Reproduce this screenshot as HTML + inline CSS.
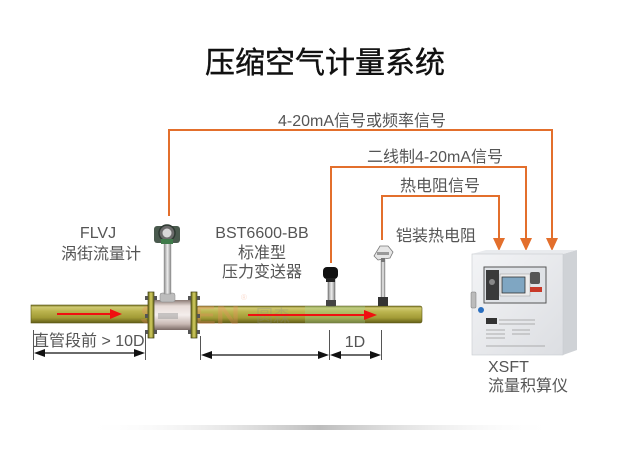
<!DOCTYPE html>
<html><head><meta charset="utf-8"><style>
html,body{margin:0;padding:0;background:#fff;}
svg{display:block;}
text{font-family:"Liberation Sans","Noto Sans CJK SC",sans-serif;}
</style></head><body>
<svg width="640" height="451" viewBox="0 0 640 451" xmlns="http://www.w3.org/2000/svg">
<defs>
<linearGradient id="pipe" x1="0" y1="0" x2="0" y2="1">
<stop offset="0" stop-color="#74701f"/>
<stop offset="0.12" stop-color="#cfc972"/>
<stop offset="0.35" stop-color="#bbb44e"/>
<stop offset="0.7" stop-color="#a29b36"/>
<stop offset="1" stop-color="#625e18"/>
</linearGradient>
<linearGradient id="body" x1="0" y1="0" x2="0" y2="1">
<stop offset="0" stop-color="#8a7a74"/>
<stop offset="0.2" stop-color="#e8dcd8"/>
<stop offset="0.5" stop-color="#f4eeec"/>
<stop offset="0.8" stop-color="#c9b9b4"/>
<stop offset="1" stop-color="#7a6a66"/>
</linearGradient>
<linearGradient id="flange" x1="0" y1="0" x2="1" y2="0">
<stop offset="0" stop-color="#6b6a1e"/>
<stop offset="0.5" stop-color="#d6d060"/>
<stop offset="1" stop-color="#6b6a1e"/>
</linearGradient>
<linearGradient id="stem" x1="0" y1="0" x2="1" y2="0">
<stop offset="0" stop-color="#8a8a8a"/>
<stop offset="0.5" stop-color="#eeeeee"/>
<stop offset="1" stop-color="#888"/>
</linearGradient>
<linearGradient id="shadow" x1="0" y1="0" x2="1" y2="0">
<stop offset="0" stop-color="#fff" stop-opacity="0"/>
<stop offset="0.5" stop-color="#bdbdbd"/>
<stop offset="1" stop-color="#fff" stop-opacity="0"/>
</linearGradient>
<linearGradient id="front" x1="0" y1="0" x2="1" y2="1">
<stop offset="0" stop-color="#f3f4f6"/>
<stop offset="1" stop-color="#dcdee2"/>
</linearGradient>
</defs>

<!-- title -->
<text x="325" y="73" font-size="30" text-anchor="middle" fill="#111" stroke="#111" stroke-width="0.4">压缩空气计量系统</text>

<!-- orange signal lines -->
<g fill="none" stroke="#e36f2c" stroke-width="2">
<polyline points="169,216 169,130 552,130 552,240"/>
<polyline points="331,263 331,167 526,167 526,240"/>
<polyline points="382,240 382,196 499,196 499,240"/>
</g>
<g fill="#e36f2c">
<polygon points="493,238 505,238 499,251"/>
<polygon points="520,238 532,238 526,251"/>
<polygon points="546,238 558,238 552,251"/>
</g>

<!-- signal labels -->
<g font-size="16" fill="#555">
<text x="362" y="126" text-anchor="middle">4-20mA信号或频率信号</text>
<text x="435" y="162" text-anchor="middle">二线制4-20mA信号</text>
<text x="440" y="191" text-anchor="middle">热电阻信号</text>
<text x="436" y="241" text-anchor="middle">铠装热电阻</text>
<text x="98" y="238" text-anchor="middle">FLVJ</text>
<text x="101" y="259" text-anchor="middle">涡街流量计</text>
<text x="262" y="238" text-anchor="middle">BST6600-BB</text>
<text x="262" y="258" text-anchor="middle">标准型</text>
<text x="262" y="277" text-anchor="middle">压力变送器</text>
<text x="33" y="346">直管段前 &gt; 10D</text>
<text x="355" y="347" text-anchor="middle">1D</text>
<text x="488" y="372">XSFT</text>
<text x="488" y="391">流量积算仪</text>
</g>

<!-- pipes -->
<rect x="31" y="305" width="118" height="18" fill="url(#pipe)" stroke="#5a5615" stroke-width="0.6"/>
<rect x="197" y="306" width="225" height="17" rx="2" fill="url(#pipe)" stroke="#5a5615" stroke-width="0.6"/>

<!-- watermark -->
<g opacity="0.3">
<text x="140" y="324" font-size="26" font-weight="bold" fill="#f08a60" textLength="100" lengthAdjust="spacingAndGlyphs">SISEN</text>
<text x="241" y="300" font-size="8" fill="#f08a60">®</text>
<text x="256" y="322" font-size="17" fill="#888">圆森</text>
<rect x="305" y="306" width="60" height="17" fill="#9fd6a0"/>
</g>

<!-- vortex meter body -->
<rect x="153" y="300" width="38" height="30" fill="url(#body)"/>
<rect x="160" y="293" width="15" height="9" rx="2" fill="#bdbdbd" stroke="#888" stroke-width="0.5"/>
<rect x="158" y="313" width="20" height="6" fill="#999" opacity="0.5"/>
<!-- stem -->
<rect x="164" y="243" width="7" height="51" fill="url(#stem)" stroke="#888" stroke-width="0.4"/>
<!-- head -->
<rect x="154" y="226" width="26" height="17" rx="3" fill="#4a5a4e"/>
<circle cx="167" cy="233" r="8" fill="#6b6b6b" stroke="#2e3a32" stroke-width="1.5"/>
<circle cx="167" cy="233" r="4.5" fill="#d8d8d8"/>
<rect x="161" y="239" width="12" height="5" fill="#3f7a4a"/>
<!-- flanges -->
<rect x="148" y="292" width="6" height="46" fill="url(#flange)" stroke="#3d3c10" stroke-width="0.7"/>
<rect x="191" y="292" width="6" height="46" fill="url(#flange)" stroke="#3d3c10" stroke-width="0.7"/>
<g fill="#555">
<rect x="145" y="296" width="3" height="4"/><rect x="145" y="314" width="3" height="4"/><rect x="145" y="330" width="3" height="4"/>
<rect x="154" y="296" width="3" height="4"/><rect x="154" y="330" width="3" height="4"/>
<rect x="188" y="296" width="3" height="4"/><rect x="188" y="330" width="3" height="4"/>
<rect x="197" y="296" width="3" height="4"/><rect x="197" y="314" width="3" height="4"/><rect x="197" y="330" width="3" height="4"/>
</g>

<!-- pressure transmitter -->
<rect x="328" y="277" width="7" height="29" fill="url(#stem)" stroke="#555" stroke-width="0.5"/>
<rect x="326" y="300" width="10" height="6" fill="#444"/>
<rect x="323" y="267" width="15" height="12" rx="4" fill="#111"/>
<rect x="326" y="278" width="9" height="4" fill="#222"/>

<!-- thermal resistor -->
<rect x="381" y="260" width="4" height="40" fill="url(#stem)" stroke="#777" stroke-width="0.4"/>
<rect x="378" y="297" width="10" height="9" fill="#333"/>
<path d="M374 256 L380 246 L388 246 L393 252 L390 258 L378 260 Z" fill="#e6e6e6" stroke="#777" stroke-width="0.8"/>
<rect x="377" y="252" width="12" height="3" fill="#999"/>
<rect x="381" y="258" width="4" height="4" fill="#777"/>

<!-- red flow arrows -->
<g stroke="#f01010" stroke-width="2" fill="#f01010">
<line x1="57" y1="314" x2="112" y2="314"/>
<polygon points="110,309 122,314 110,319" stroke="none"/>
<line x1="248" y1="315" x2="366" y2="315"/>
<polygon points="364,310 377,315 364,320" stroke="none"/>
</g>

<!-- dimension lines -->
<g stroke="#555" stroke-width="1" fill="none">
<line x1="33.5" y1="330" x2="33.5" y2="360"/>
<line x1="145.5" y1="330" x2="145.5" y2="360"/>
<line x1="200.5" y1="336" x2="200.5" y2="360"/>
<line x1="329.5" y1="330" x2="329.5" y2="360"/>
<line x1="381.5" y1="330" x2="381.5" y2="360"/>
</g>
<g stroke="#111" stroke-width="1.2">
<line x1="40" y1="353" x2="139" y2="353"/>
<line x1="207" y1="355" x2="323" y2="355"/>
<line x1="336" y1="355" x2="375" y2="355"/>
</g>
<g fill="#111">
<polygon points="34,353 45,349 45,357"/>
<polygon points="145,353 134,349 134,357"/>
<polygon points="201,355 212,351 212,359"/>
<polygon points="329,355 318,351 318,359"/>
<polygon points="330,355 341,351 341,359"/>
<polygon points="381,355 370,351 370,359"/>
</g>

<!-- cabinet -->
<polygon points="563,254 577,250 577,350 563,355" fill="#cfd2d6"/>
<polygon points="472,254 486,250 577,250 563,254" fill="#e9ebee"/>
<rect x="472" y="254" width="91" height="101" fill="url(#front)" stroke="#c8cbd0" stroke-width="0.6"/>
<rect x="484" y="267" width="62" height="36" fill="#dfe2e6" stroke="#555" stroke-width="1"/>
<rect x="486" y="270" width="13" height="30" fill="#3a3a3a"/>
<circle cx="492" cy="282" r="3" fill="#888"/>
<rect x="500" y="274" width="30" height="22" fill="#ececec" stroke="#999" stroke-width="0.5"/>
<rect x="502" y="277" width="23" height="16" fill="#7fa6c2" stroke="#333" stroke-width="0.8"/>
<rect x="530" y="272" width="10" height="12" rx="2" fill="#555"/>
<rect x="530" y="287" width="12" height="5" fill="#c83a2a"/>
<rect x="471" y="292" width="5" height="16" rx="1" fill="#bbb" stroke="#777" stroke-width="0.5"/>
<circle cx="481" cy="310" r="3" fill="#2a6fc0"/>
<rect x="486" y="318" width="11" height="6" fill="#333"/>
<g stroke="#999" stroke-width="0.8">
<line x1="499" y1="320" x2="535" y2="320"/>
<line x1="499" y1="324" x2="535" y2="324"/>
<line x1="486" y1="330" x2="505" y2="330"/>
<line x1="512" y1="330" x2="530" y2="330"/>
<line x1="486" y1="334" x2="505" y2="334"/>
<line x1="512" y1="334" x2="530" y2="334"/>
<line x1="486" y1="338" x2="505" y2="338"/>
<line x1="486" y1="346" x2="545" y2="346"/>
</g>

<!-- bottom shadow line -->
<rect x="83" y="425" width="474" height="5" fill="url(#shadow)"/>
</svg>
</body></html>
